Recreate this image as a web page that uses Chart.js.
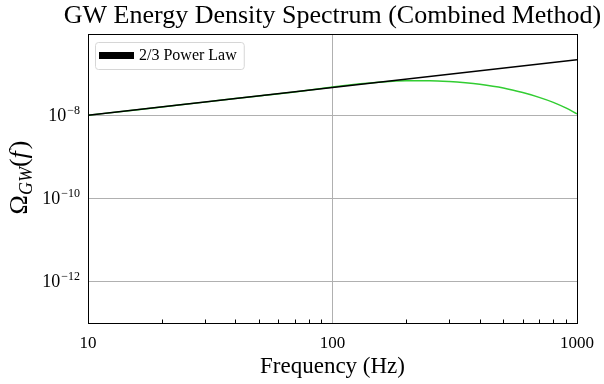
<!DOCTYPE html>
<html>
<head>
<meta charset="utf-8">
<script src="https://cdn.jsdelivr.net/npm/chart.js@4.4.1/dist/chart.umd.min.js"></script>
<style>
html, body { margin: 0; padding: 0; background: #fff; }
#wrap { position: relative; width: 604px; height: 384px; }
</style>
</head>
<body>
<div id="wrap"><canvas id="gwchart"></canvas></div>
<script>
// frequencies (Hz) and Omega_GW values
const freqs = [10, 15, 20, 30, 40, 50, 70, 100, 130, 160, 200, 250, 300, 350, 400, 500, 600, 700, 800, 900, 1000];
const combinedOmega = [1.0e-8, 1.303e-8, 1.585e-8, 2.065e-8, 2.512e-8, 2.917e-8, 3.631e-8, 4.786e-8, 5.689e-8, 6.339e-8,
  6.730e-8, 6.761e-8, 6.486e-8, 6.053e-8, 5.559e-8, 4.519e-8, 3.508e-8, 2.692e-8, 2.042e-8, 1.496e-8, 1.072e-8];
const powerLawFreqs = [10, 100, 1000];
const powerLawOmega = [1.0e-8, 4.64e-8, 2.15e-7];

const xMajorTicks = [10, 100, 1000];
const xMinorTicks = [20, 30, 40, 50, 60, 70, 80, 90, 200, 300, 400, 500, 600, 700, 800, 900];
const yMajorTicks = [1e-12, 1e-10, 1e-8];
const yTickExponents = ['\u221212', '\u221210', '\u22128'];

const chartTitle = 'GW Energy Density Spectrum (Combined Method)';
const legendLabel = '2/3 Power Law';

const FONT = "'Liberation Serif', 'DejaVu Serif', serif";

const toPoints = (xs, ys) => xs.map((x, i) => ({ x: x, y: ys[i] }));

// title, legend, plot frame, minor ticks, y tick labels and the y axis title
const extras = {
    id: 'extras',
    afterDraw(chart) {
        const ctx = chart.ctx;
        const a = chart.chartArea;
        const xs = chart.scales.x;
        const ys = chart.scales.y;
        ctx.save();

        // title
        ctx.fillStyle = '#000';
        ctx.font = '26px ' + FONT;
        ctx.textAlign = 'center';
        ctx.textBaseline = 'middle';
        ctx.fillText(chartTitle, (a.left + a.right) / 2, 16);

        // minor ticks, pointing inwards
        ctx.strokeStyle = '#000';
        ctx.lineWidth = 1;
        ctx.beginPath();
        xMinorTicks.forEach(v => {
            const px = Math.round(xs.getPixelForValue(v)) + 0.5;
            ctx.moveTo(px, a.bottom);
            ctx.lineTo(px, a.bottom - 3.5);
        });
        ctx.stroke();
        ctx.strokeRect(Math.round(a.left) + 0.5, Math.round(a.top) + 0.5,
            Math.round(a.right - a.left), Math.round(a.bottom - a.top));

        // y tick labels: 10 with a raised exponent
        ctx.textAlign = 'right';
        ctx.textBaseline = 'alphabetic';
        yMajorTicks.forEach((v, i) => {
            const py = ys.getPixelForValue(v);
            const right = a.left - 8;
            ctx.font = '12px ' + FONT;
            const ew = ctx.measureText(yTickExponents[i]).width;
            ctx.fillText(yTickExponents[i], right, py - 1);
            ctx.font = '18px ' + FONT;
            ctx.fillText('10', right - ew - 1, py + 6);
        });

        // legend
        ctx.font = '16px ' + FONT;
        const tw = ctx.measureText(legendLabel).width;
        const lx = a.left + 7, ly = a.top + 8;
        const lw = 4 + 35 + 5 + tw + 7, lh = 27;
        ctx.fillStyle = 'rgba(255,255,255,0.8)';
        ctx.strokeStyle = '#d6d6d6';
        ctx.beginPath();
        ctx.roundRect(Math.round(lx) + 0.5, Math.round(ly) + 0.5, lw, lh, 3);
        ctx.fill();
        ctx.stroke();
        ctx.fillStyle = '#000';
        ctx.fillRect(lx + 4, ly + 10, 35, 7);
        ctx.textAlign = 'left';
        ctx.textBaseline = 'middle';
        ctx.fillText(legendLabel, lx + 44, ly + 14);

        // y title: Omega_GW(f)
        const parts = [
            { t: '\u03A9', f: '26px ' + FONT, dy: 0 },
            { t: 'GW', f: 'italic 18px ' + FONT, dy: 5 },
            { t: '(', f: '26px ' + FONT, dy: 0 },
            { t: 'f', f: 'italic 26px ' + FONT, dy: 0 },
            { t: ')', f: '26px ' + FONT, dy: 0 }
        ];
        let total = 0;
        parts.forEach(p => { ctx.font = p.f; p.w = ctx.measureText(p.t).width; total += p.w; });
        ctx.translate(27, (a.top + a.bottom) / 2);
        ctx.rotate(-Math.PI / 2);
        ctx.textBaseline = 'alphabetic';
        ctx.textAlign = 'left';
        let cx = -total / 2;
        parts.forEach(p => {
            ctx.font = p.f;
            ctx.fillText(p.t, cx, p.dy);
            cx += p.w + (p.t === 'f' ? 2 : 0);
        });
        ctx.restore();
    }
};

const ctx = document.getElementById('gwchart').getContext('2d');
const gwchart = new Chart(ctx, {
    type: 'line',
    data: {
        datasets: [{
            label: legendLabel,
            data: toPoints(powerLawFreqs, powerLawOmega),
            borderColor: '#000000',
            backgroundColor: '#000000',
            borderWidth: 1.5,
            pointRadius: 0,
            fill: false
        }, {
            label: 'Combined',
            data: toPoints(freqs, combinedOmega),
            borderColor: '#32cd32',
            backgroundColor: '#32cd32',
            borderWidth: 1.5,
            pointRadius: 0,
            cubicInterpolationMode: 'monotone',
            fill: false
        }]
    },
    options: {
        responsive: true,
        maintainAspectRatio: false,
        animation: false,
        layout: { padding: { left: 0, right: 26, top: 34, bottom: 0 } },
        scales: {
            x: {
                type: 'logarithmic',
                min: 10,
                max: 1000,
                afterBuildTicks: s => { s.ticks = xMajorTicks.map(v => ({ value: v })); },
                afterFit: s => { s.height = 61; },
                ticks: {
                    callback: v => String(v),
                    font: { family: FONT, size: 17 },
                    color: '#000',
                    padding: 10,
                    maxRotation: 0,
                    autoSkip: false
                },
                grid: { color: '#b0b0b0', lineWidth: 1, drawTicks: false },
                border: { color: '#000', width: 1 },
                title: {
                    display: true,
                    text: 'Frequency (Hz)',
                    font: { family: FONT, size: 23 },
                    color: '#000',
                    padding: { top: 0, bottom: 3 }
                }
            },
            y: {
                type: 'logarithmic',
                min: 1e-13,
                max: 9e-7,
                afterBuildTicks: s => { s.ticks = yMajorTicks.map(v => ({ value: v })); },
                afterFit: s => { s.width = 88; },
                ticks: { display: false },
                grid: { color: '#b0b0b0', lineWidth: 1, drawTicks: false },
                border: { color: '#000', width: 1 }
            }
        },
        plugins: {
            title: { display: false },
            legend: { display: false },
            tooltip: { enabled: false }
        }
    },
    plugins: [extras]
});
</script>
</body>
</html>
